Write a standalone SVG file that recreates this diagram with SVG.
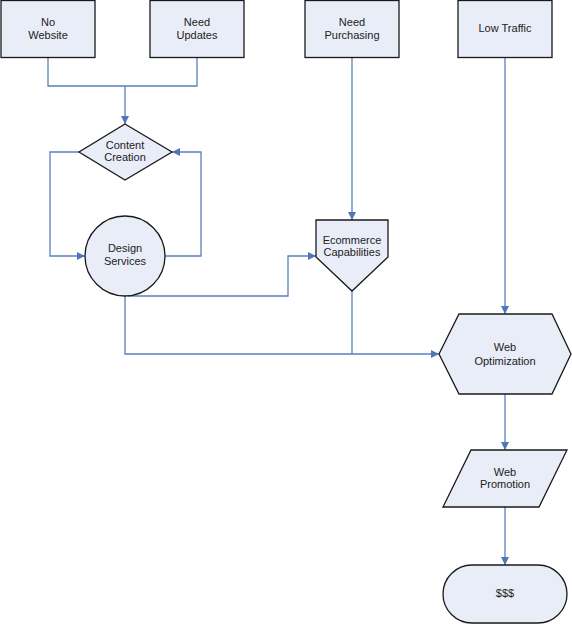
<svg xmlns="http://www.w3.org/2000/svg" width="572" height="625" viewBox="0 0 572 625">
<defs>
<style>
.n{fill:#e8edf7;stroke:#1a1a1a;stroke-width:1.3}
.c{fill:none;stroke:#5b80bf;stroke-width:1.3}
text{font-family:"Liberation Sans",Arial,sans-serif;font-size:11px;fill:#222;text-anchor:middle}
</style>
<marker id="a" viewBox="0 0 8 8" refX="8" refY="4" markerWidth="8" markerHeight="8" markerUnits="userSpaceOnUse" orient="auto">
<path d="M0,0 L8,4 L0,8 Z" fill="#4f76b8"/>
</marker>
</defs>
<rect width="572" height="625" fill="#fff"/>
<g id="connectors">
<path class="c" d="M48,57 V86 H197 V57"/>
<path class="c" d="M125,86 V124" marker-end="url(#a)"/>
<path class="c" d="M79,152 H50 V256 H85" marker-end="url(#a)"/>
<path class="c" d="M165,256 H201 V152 H172" marker-end="url(#a)"/>
<path class="c" d="M128,296 H288 V256 H316" marker-end="url(#a)"/>
<path class="c" d="M352,57 V220" marker-end="url(#a)"/>
<path class="c" d="M125,296 V354 H439" marker-end="url(#a)"/>
<path class="c" d="M352,291 V354"/>
<path class="c" d="M505,57 V314" marker-end="url(#a)"/>
<path class="c" d="M505,394 V450" marker-end="url(#a)"/>
<path class="c" d="M505,507 V565" marker-end="url(#a)"/>
</g>
<g id="no-website"><rect class="n" x="1" y="0.5" width="94" height="57"/><text x="48" y="26">No</text><text x="48" y="39">Website</text></g>
<g id="need-updates"><rect class="n" x="150" y="0.5" width="94" height="57"/><text x="197" y="26">Need</text><text x="197" y="39">Updates</text></g>
<g id="need-purchasing"><rect class="n" x="305" y="0.5" width="94" height="57"/><text x="352" y="26">Need</text><text x="352" y="39">Purchasing</text></g>
<g id="low-traffic"><rect class="n" x="458" y="0.5" width="94" height="57"/><text x="505" y="32">Low Traffic</text></g>
<g id="content-creation"><polygon class="n" points="125,124 172,152 125,180 79,152"/><text x="125" y="149">Content</text><text x="125" y="161">Creation</text></g>
<g id="design-services"><circle class="n" cx="125" cy="256" r="40"/><text x="125" y="252">Design</text><text x="125" y="265">Services</text></g>
<g id="ecommerce"><polygon class="n" points="316,220 388,220 388,257 352,291 316,257"/><text x="352" y="244">Ecommerce</text><text x="352" y="256">Capabilities</text></g>
<g id="web-optimization"><polygon class="n" points="439,354 459,314 552,314 571,354 552,394 459,394"/><text x="505" y="351">Web</text><text x="505" y="365">Optimization</text></g>
<g id="web-promotion"><polygon class="n" points="471,450 567,450 539,507 443,507"/><text x="505" y="476">Web</text><text x="505" y="488">Promotion</text></g>
<g id="money"><rect class="n" x="443" y="565" width="124" height="58" rx="29" ry="29"/><text x="505" y="597">$$$</text></g>
</svg>
